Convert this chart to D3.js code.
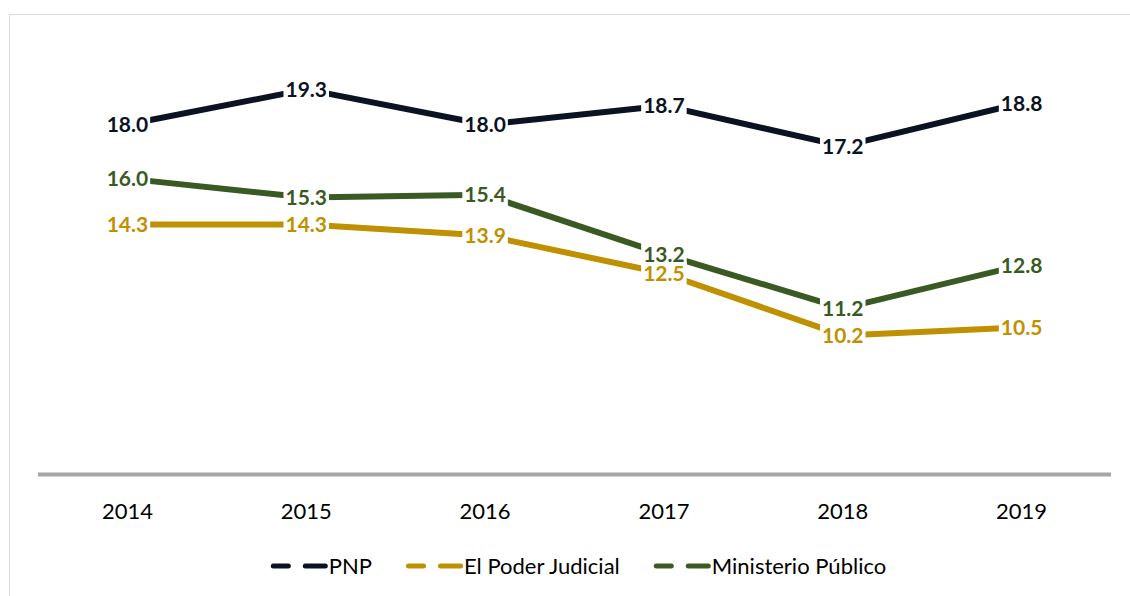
<!DOCTYPE html>
<html lang="es">
<head>
<meta charset="UTF-8">
<title>PNP, Poder Judicial, Ministerio Público</title>
<script src="https://d3js.org/d3.v7.min.js"></script>
<style>
body { margin: 0; background: #fff; }
svg text { font-family: Lato, "Open Sans", sans-serif; }
</style>
</head>
<body>
<svg width="1130" height="596"></svg>
<script>
// datos
var years = ['2014', '2015', '2016', '2017', '2018', '2019'];
var pnp = [18.0, 19.3, 18.0, 18.7, 17.2, 18.8];
var judicial = [14.3, 14.3, 13.9, 12.5, 10.2, 10.5];
var ministerio = [16.0, 15.3, 15.4, 13.2, 11.2, 12.8];
var seriesNames = ['PNP', 'El Poder Judicial', 'Ministerio Público'];
var colors = ['#0b1222', '#bf9000', '#3a5a23'];

var series = [pnp, judicial, ministerio].map(function(vals, k) {
    return {
        name: seriesNames[k],
        color: colors[k],
        points: vals.map(function(v, i) { return { year: years[i], value: v }; })
    };
});

var svg = d3.select('svg');

// marco
svg.append('rect')
    .attr('x', 9.5).attr('y', 14.5)
    .attr('width', 1300).attr('height', 800)
    .attr('fill', 'none')
    .attr('stroke', '#d9d9d9')
    .attr('stroke-width', 1);

var x = d3.scaleBand().domain(years).range([38, 1111]);
var y = d3.scaleLinear().domain([5, 20]).range([476, 70.5]);

// eje horizontal
svg.append('line')
    .attr('x1', 38).attr('x2', 1111)
    .attr('y1', y(5) - 1.5).attr('y2', y(5) - 1.5)
    .attr('stroke', '#a6a6a6')
    .attr('stroke-width', 4);

svg.append('g')
    .selectAll('text')
    .data(years)
    .enter()
    .append('text')
    .attr('x', function(d) { return x(d) + x.bandwidth() / 2; })
    .attr('y', 519)
    .attr('text-anchor', 'middle')
    .attr('font-size', 22)
    .attr('fill', '#000')
    .text(function(d) { return d; });

var line = d3.line()
    .x(function(d) { return x(d.year) + x.bandwidth() / 2; })
    .y(function(d) { return y(d.value); });

svg.append('g')
    .selectAll('path')
    .data(series)
    .enter()
    .append('path')
    .attr('d', function(d) { return line(d.points); })
    .attr('fill', 'none')
    .attr('stroke', function(d) { return d.color; })
    .attr('stroke-width', 6)
    .attr('stroke-linejoin', 'round');

// etiquetas de datos con fondo blanco
series.forEach(function(s) {
    var g = svg.append('g');
    var lab = g.selectAll('g')
        .data(s.points)
        .enter()
        .append('g')
        .attr('transform', function(d) {
            return 'translate(' + (x(d.year) + x.bandwidth() / 2) + ',' + y(d.value) + ')';
        });
    lab.append('rect');
    lab.append('text')
        .attr('text-anchor', 'middle')
        .attr('dy', '0.36em')
        .attr('font-size', 21)
        .attr('font-weight', 'bold')
        .attr('fill', s.color)
        .text(function(d) { return d.value.toFixed(1); });
    lab.each(function() {
        var t = d3.select(this).select('text').node().getBBox();
        d3.select(this).select('rect')
            .attr('x', t.x - 2).attr('y', -11)
            .attr('width', t.width + 4).attr('height', 22)
            .attr('fill', '#fff');
    });
});

// leyenda
var legend = svg.append('g');
var lx = 0;
series.forEach(function(s, k) {
    var item = legend.append('g').attr('transform', 'translate(' + lx + ',0)');
    [[2.5, 17.5], [34.5, 54.5]].forEach(function(seg) {
        item.append('line')
            .attr('x1', seg[0]).attr('x2', seg[1])
            .attr('y1', 0).attr('y2', 0)
            .attr('stroke', s.color)
            .attr('stroke-width', 5)
            .attr('stroke-linecap', 'round');
    });
    var t = item.append('text')
        .attr('x', 58)
        .attr('y', 8)
        .attr('font-size', 22)
        .attr('fill', '#000')
        .text(s.name);
    lx += 58 + t.node().getComputedTextLength() + 34;
});
lx -= 34;
legend.attr('transform', 'translate(' + (578.5 - lx / 2) + ',566)');
</script>
</body>
</html>
